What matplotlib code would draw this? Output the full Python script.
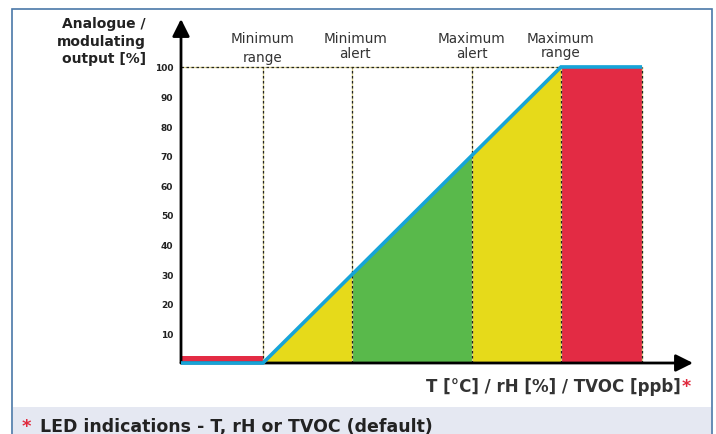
import matplotlib
matplotlib.use("Agg")
import matplotlib.pyplot as plt
from matplotlib.patches import Rectangle
import numpy as np

# ---- data ----
threshold_labels = ["Minimum\nrange", "Minimum\nalert", "Maximum\nalert", "Maximum\nrange"]
threshold_x = [0, 30, 70, 100]          # position on the measured-value axis
x_points = [-27.5, 0, 30, 70, 100, 127.2]
output_pct = [0, 0, 30, 70, 100, 100]   # analogue / modulating output [%]
zone_colors = ["#e32b44", "#e6da1a", "#59b94b", "#e6da1a", "#e32b44"]
low_led_level = 2.2
y_ticks = [10, 20, 30, 40, 50, 60, 70, 80, 90, 100]
x_axis_end = 144.3
y_axis_end = 116.2

W, H = 716, 435
fig = plt.figure(figsize=(W / 100, H / 100), dpi=100)
fig.patch.set_facecolor("white")

def fx(px):
    return px / W

def fy(py):
    return 1 - py / H

# frame and bottom band
fig.patches.append(Rectangle((fx(13), fy(435)), fx(698), 27 / H, transform=fig.transFigure,
                             facecolor="#e5e8f2", edgecolor="none", zorder=0))
fig.patches.append(Rectangle((fx(12), fy(440)), fx(700), 430 / H, transform=fig.transFigure,
                             facecolor="none", edgecolor="#4a78a8", lw=1.2, zorder=1))

ax = fig.add_axes([fx(181), fy(364), fx(693 - 181), (364 - 20) / H])
ax.set_xlim(x_points[0], x_axis_end)
ax.set_ylim(0, y_axis_end)
ax.patch.set_alpha(0)
for s in ax.spines.values():
    s.set_visible(False)
ax.set_xticks([])
ax.set_yticks(y_ticks)
ax.set_yticklabels([str(v) for v in y_ticks], fontsize=6.5, fontweight="bold", color="#222222")
ax.tick_params(axis="y", length=0, pad=5.5)

# zones
for i, c in enumerate(zone_colors):
    xs = [x_points[i], x_points[i + 1]]
    if i == 0:
        ys = [low_led_level, low_led_level]
    else:
        ys = [output_pct[i], output_pct[i + 1]]
    ax.fill_between(xs, 0, ys, color=c, lw=0, zorder=2)

# dotted guide lines
top = max(output_pct)
for xv in threshold_x + [x_points[-1]]:
    ax.plot([xv, xv], [0, top], color="#d8d08a", lw=0.9, zorder=3)
    ax.plot([xv, xv], [0, top], color="#222222", lw=0.9, ls=(0, (2, 2)), zorder=3)
ax.plot([x_points[0], threshold_x[-1]], [top, top], color="#d8d08a", lw=0.9, zorder=3)
ax.plot([x_points[0], threshold_x[-1]], [top, top], color="#222222", lw=0.9, ls=(0, (2, 2)), zorder=3)

# axes arrows
arrow = dict(arrowstyle="-|>,head_length=0.4,head_width=0.2", mutation_scale=26,
             lw=2.0, color="black", shrinkA=0, shrinkB=0)
ax.annotate("", xy=(x_axis_end, 0), xytext=(x_points[0], 0), arrowprops=arrow,
            annotation_clip=False, zorder=4)
ax.annotate("", xy=(x_points[0], y_axis_end), xytext=(x_points[0], 0), arrowprops=arrow,
            annotation_clip=False, zorder=4)

# output curve
ax.plot(x_points, output_pct, color="#16a4d8", lw=2.6, solid_capstyle="butt",
        solid_joinstyle="miter", zorder=5, clip_on=False)

# threshold labels
line2_y = [62, 58, 58, 57]
for lab, xv, y2 in zip(threshold_labels, threshold_x, line2_y):
    l1, l2 = lab.split("\n")
    xc = xv + (1 if lab == "Minimum\nalert" else 0)
    ax.text(xc, (364 - 43) / 2.96, l1, ha="center", va="baseline", fontsize=9.8, color="#333333")
    ax.text(xc, (364 - y2) / 2.96, l2, ha="center", va="baseline", fontsize=9.8, color="#333333")

# y label
for t, by in zip(["Analogue /", "modulating", "output [%]"], [28, 46, 63]):
    fig.text(fx(146), fy(by), t, ha="right", va="baseline", fontsize=10, fontweight="bold",
             color="#222222")

# x label
fig.text(fx(681), fy(392), "T [°C] / rH [%] / TVOC [ppb]", ha="right", va="baseline",
         fontsize=12, fontweight="bold", color="#333333")
fig.text(fx(682), fy(392), "*", ha="left", va="baseline", fontsize=12.5, fontweight="bold",
         color="#e0283c")

# bottom note
fig.text(fx(22), fy(432), "*", ha="left", va="baseline", fontsize=13, fontweight="bold",
         color="#e0283c")
fig.text(fx(40), fy(432), "LED indications - T, rH or TVOC (default)", ha="left", va="baseline",
         fontsize=12.5, fontweight="bold", color="#222222")

fig.savefig("out.png", dpi=100)
